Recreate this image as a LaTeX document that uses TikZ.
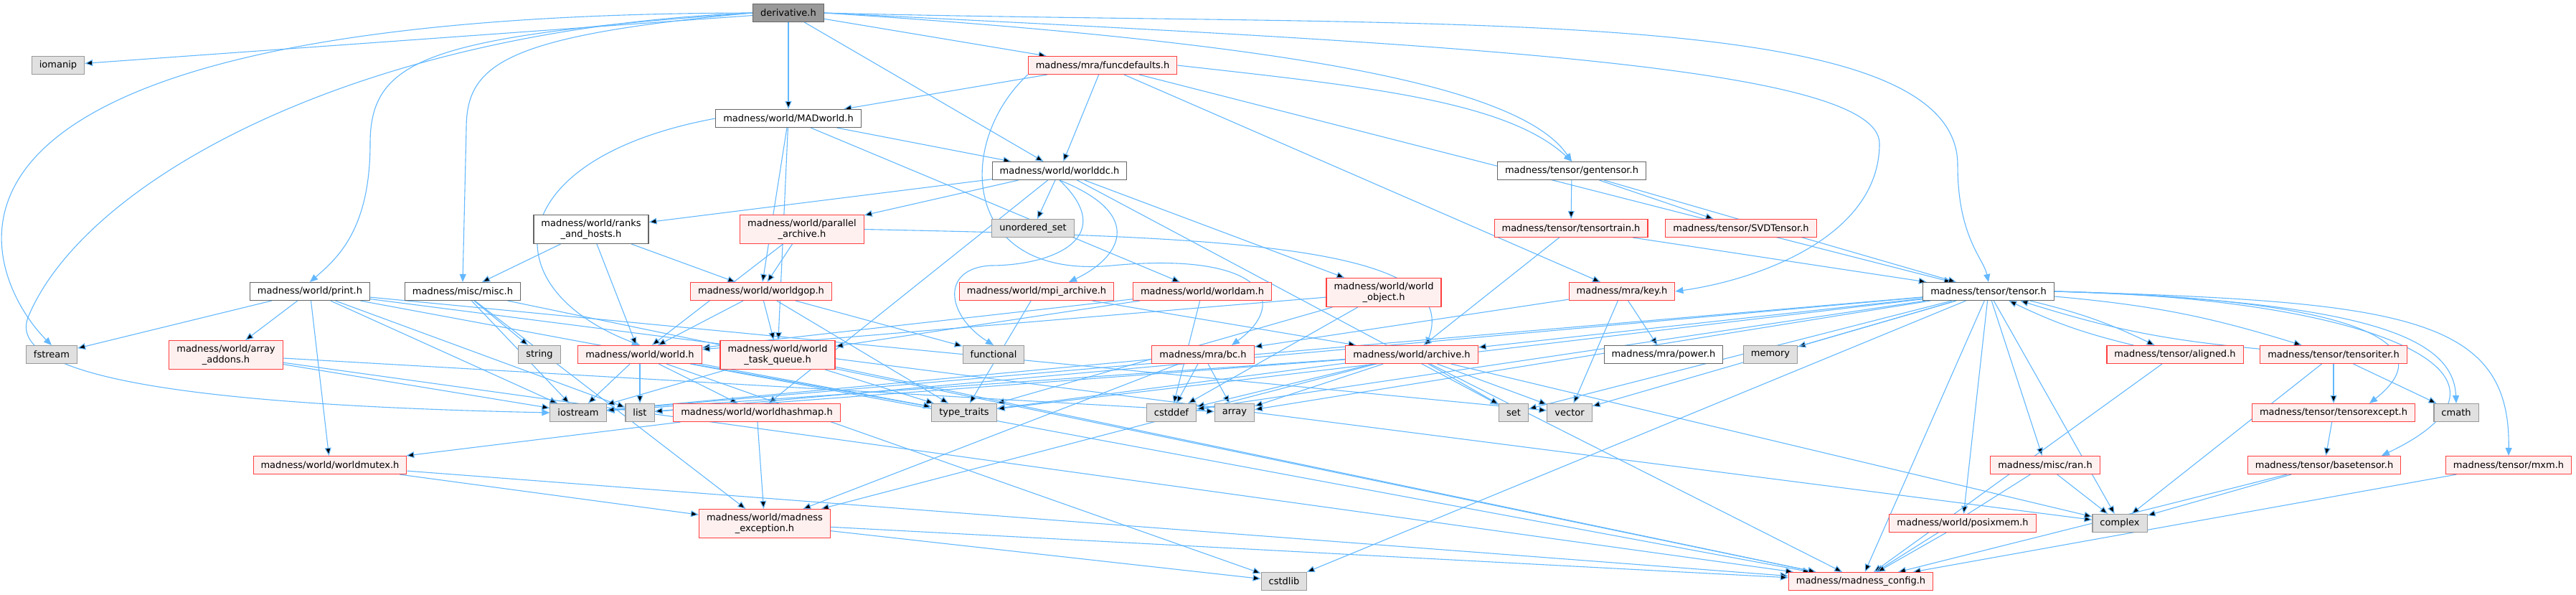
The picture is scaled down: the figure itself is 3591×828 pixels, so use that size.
\documentclass[tikz,border=0pt]{standalone}
\usepackage{fontspec}
\setmainfont{DejaVu Sans}
\usetikzlibrary{arrows.meta,backgrounds}

\definecolor{edgeblue}{RGB}{99,184,255}
\definecolor{cutred}{RGB}{255,64,64}
\definecolor{cutfill}{RGB}{255,240,240}
\definecolor{sysfill}{RGB}{224,224,224}
\definecolor{sysline}{RGB}{153,153,153}
\definecolor{plainline}{RGB}{102,102,102}
\definecolor{rootfill}{RGB}{153,153,153}

\tikzset{
  hdr/.style={draw, line width=1.1pt, minimum height=25pt, inner xsep=10.5pt, inner ysep=0pt,
    font=\fontsize{13}{14.5}\selectfont, align=center},
  root/.style={hdr, draw=plainline, fill=rootfill},
  plain/.style={hdr, draw=plainline, fill=white},
  cut/.style={hdr, draw=cutred, fill=cutfill},
  sys/.style={hdr, draw=sysline, fill=sysfill},
  tall/.style={minimum height=40pt},
  dep/.style={draw=edgeblue, line width=1.1pt, -{Triangle[length=11pt,width=9pt]}}
}

\begin{document}
\begin{tikzpicture}[x=1pt,y=-1pt]
  \useasboundingbox (0,0) rectangle (3591,828);

  \node[root] (derivative) at (1099,18) {derivative.h};
  \node[sys] (iomanip) at (81,91) {iomanip};
  \node[cut] (funcdefaults) at (1537,91) {madness/mra/funcdefaults.h};
  \node[plain] (madworld) at (1099,165) {madness/world/MADworld.h};
  \node[plain] (worlddc) at (1477,238) {madness/world/worlddc.h};
  \node[plain] (gentensor) at (2191,238) {madness/tensor/gentensor.h};
  \node[plain,tall] (ranks) at (824,319.5) {madness/world/ranks\\\_and\_hosts.h};
  \node[cut,tall] (parallel) at (1118,319.5) {madness/world/parallel\\\_archive.h};
  \node[sys] (unorderedset) at (1440,318) {unordered\_set};
  \node[cut] (tensortrain) at (2190,318) {madness/tensor/tensortrain.h};
  \node[cut] (svdtensor) at (2427,318) {madness/tensor/SVDTensor.h};
  \node[plain] (print) at (432,406) {madness/world/print.h};
  \node[plain] (misc) at (645,406) {madness/misc/misc.h};
  \node[cut] (worldgop) at (1061,406) {madness/world/worldgop.h};
  \node[cut] (mpiarchive) at (1445,406) {madness/world/mpi\_archive.h};
  \node[cut] (worldam) at (1676,406) {madness/world/worldam.h};
  \node[cut,tall] (worldobject) at (1929,407.5) {madness/world/world\\\_object.h};
  \node[cut] (key) at (2261,406) {madness/mra/key.h};
  \node[plain] (tensor) at (2772,406) {madness/tensor/tensor.h};
  \node[sys] (fstream) at (72,494) {fstream};
  \node[cut,tall] (arrayaddons) at (315,494.5) {madness/world/array\\\_addons.h};
  \node[sys] (string) at (752,494) {string};
  \node[cut] (world) at (892,494) {madness/world/world.h};
  \node[cut,tall] (taskqueue) at (1084,494.5) {madness/world/world\\\_task\_queue.h};
  \node[sys] (functional) at (1385,494) {functional};
  \node[cut] (bc) at (1677,494) {madness/mra/bc.h};
  \node[cut] (archive) at (1968,494) {madness/world/archive.h};
  \node[plain] (power) at (2319,494) {madness/mra/power.h};
  \node[sys] (memory) at (2468,494) {memory};
  \node[cut] (aligned) at (3032,494) {madness/tensor/aligned.h};
  \node[cut] (tensoriter) at (3253,494) {madness/tensor/tensoriter.h};
  \node[sys] (iostream) at (806,575) {iostream};
  \node[sys] (list) at (892,575) {list};
  \node[cut] (hashmap) at (1055,575) {madness/world/worldhashmap.h};
  \node[sys] (typetraits) at (1344,575) {type\_traits};
  \node[sys] (cstddef) at (1633,575) {cstddef};
  \node[sys] (array) at (1721,575) {array};
  \node[sys] (set) at (2110,575) {set};
  \node[sys] (vector) at (2188,575) {vector};
  \node[cut] (tensorexcept) at (3253,575) {madness/tensor/tensorexcept.h};
  \node[sys] (cmath) at (3424,575) {cmath};
  \node[cut] (worldmutex) at (460,648) {madness/world/worldmutex.h};
  \node[cut] (ran) at (2851,648) {madness/misc/ran.h};
  \node[cut] (basetensor) at (3240,648) {madness/tensor/basetensor.h};
  \node[cut] (mxm) at (3497,648) {madness/tensor/mxm.h};
  \node[cut,tall] (exception) at (1066,729.5) {madness/world/madness\\\_exception.h};
  \node[cut] (posixmem) at (2736,729) {madness/world/posixmem.h};
  \node[sys] (complex) at (2955,729) {complex};
  \node[sys] (cstdlib) at (1790,810) {cstdlib};
  \node[cut] (config) at (2594,810) {madness/madness\_config.h};

  \begin{scope}[on background layer]
    % long routes out of derivative.h
    \draw[dep] (derivative.west) .. controls (-230,20) and (-10,400) .. (fstream.north);
    \draw[dep] (derivative.west) .. controls (500,40) and (120,250) .. (40,440)
      .. controls (0,530) and (300,565) .. (iostream.west);
    \draw[dep] (derivative.west) .. controls (600,50) and (516,80) .. (516,200)
      .. controls (516,320) and (470,360) .. (print.north);
    \draw[dep] (derivative.west) .. controls (700,50) and (650,90) .. (650,180) -- (misc.north);
    \draw[dep] (derivative.east) .. controls (1800,60) and (2120,120) .. (gentensor.north);
    \draw[dep] (funcdefaults.east) .. controls (1900,120) and (2100,140) .. (gentensor.north);
    \draw[dep] (derivative.east) .. controls (2000,40) and (2729,0) .. (2729,230)
      .. controls (2729,330) and (2765,360) .. (tensor.north);
    \draw[dep] (derivative.east) .. controls (2000,60) and (2620,90) .. (2620,200)
      .. controls (2620,330) and (2450,390) .. (key.east);
    % loops in the middle
    \draw[dep] (funcdefaults.south west) .. controls (1330,200) and (1340,390) .. (1550,370)
      .. controls (1760,350) and (1800,420) .. ([xshift=40pt]bc.north);
    \draw[dep] (worlddc.south) .. controls (1560,330) and (1470,370) .. (1380,370)
      .. controls (1310,375) and (1320,440) .. (functional.north);
    \draw[dep] (worlddc.south) .. controls (1600,300) and (1560,360) .. ([xshift=45pt]mpiarchive.north);
    \draw[dep] (madworld.west) .. controls (700,220) and (680,400) .. (world.north);
    \draw[dep] (parallel.east) .. controls (1700,330) and (2040,340) .. ([xshift=20pt]archive.north);
    % right side of tensor.h
    \draw[dep] (tensor.east) .. controls (3300,420) and (3420,470) .. (cmath.north);
    \draw[dep] (tensor.east) .. controls (3250,415) and (3420,470) .. ([xshift=50pt]tensorexcept.north);
    \draw[dep] (tensor.east) .. controls (3300,415) and (3560,520) .. ([xshift=80pt]basetensor.north);
    \draw[dep] (tensor.east) .. controls (3350,420) and (3500,440) .. (mxm.north);

    \draw[dep] (derivative) edge (iomanip) edge (madworld) edge (worlddc) edge (funcdefaults);
    \draw[dep] (funcdefaults) edge (madworld) edge (worlddc) edge (key) edge (tensor);
    \draw[dep] (madworld) edge (worldgop) edge (worlddc) edge (taskqueue) edge (worldam);
    \draw[dep] (worlddc) edge (ranks) edge (parallel) edge (unorderedset)
      edge (worldobject) edge (hashmap) edge (set);
    \draw[dep] (gentensor) edge (tensortrain) edge (svdtensor) edge (tensor);
    \draw[dep] (tensortrain) edge (tensor) edge (archive);
    \draw[dep] (ranks) edge (misc) edge (worldgop) edge (world);
    \draw[dep] (parallel) edge (worldgop) edge (world);
    \draw[dep] (print) edge (fstream) edge (arrayaddons) edge (worldmutex) edge (iostream)
      edge (list) edge (typetraits) edge (vector) edge (complex);
    \draw[dep] (misc) edge (string) edge (iostream) edge (exception) edge (config);
    \draw[dep] (arrayaddons) edge (iostream) edge (array) edge (config);
    \draw[dep] (worldgop) edge (world) edge (taskqueue) edge (functional) edge (typetraits);
    \draw[dep] (mpiarchive) edge (archive) edge (typetraits);
    \draw[dep] (worldam) edge (taskqueue) edge (cstddef) edge (world);
    \draw[dep] (worldobject) edge (world) edge (typetraits) edge (cstddef);
    \draw[dep] (key) edge (vector) edge (power) edge (bc);
    \draw[dep] (world) edge (iostream) edge (list) edge (hashmap) edge (typetraits)
      edge (cstdlib) edge (config);
    \draw[dep] (taskqueue) edge (iostream) edge (typetraits) edge (config);
    \draw[dep] (hashmap) edge (exception) edge (worldmutex);
    \draw[dep] (worldmutex) edge (exception) edge (config);
    \draw[dep] (exception) edge (config) edge (cstdlib);
    \draw[dep] (bc) edge (array) edge (cstddef) edge (exception) edge (iostream);
    \draw[dep] (archive) edge (typetraits) edge (cstddef) edge (array) edge (iostream) edge (list)
      edge (set) edge (vector) edge (complex) edge (exception) edge (config);
    \draw[dep] (tensor) edge (memory) edge (archive) edge (iostream) edge (list) edge (typetraits)
      edge (cstddef) edge (array) edge (set) edge (vector) edge (cstdlib) edge (config)
      edge (posixmem) edge (ran) edge (complex)
      edge[bend left=6] (aligned) edge[bend left=6] (tensoriter);
    \draw[dep] (aligned) edge[bend left=6] (tensor) edge (config);
    \draw[dep] (tensoriter) edge[bend left=6] (tensor) edge (tensorexcept) edge (cmath) edge (complex);
    \draw[dep] (tensorexcept) edge (basetensor);
    \draw[dep] (basetensor) edge (complex) edge (config);
    \draw[dep] (mxm) edge (config);
    \draw[dep] (ran) edge (complex) edge (config);
    \draw[dep] (posixmem) edge (config);
  \end{scope}
\end{tikzpicture}
\end{document}
